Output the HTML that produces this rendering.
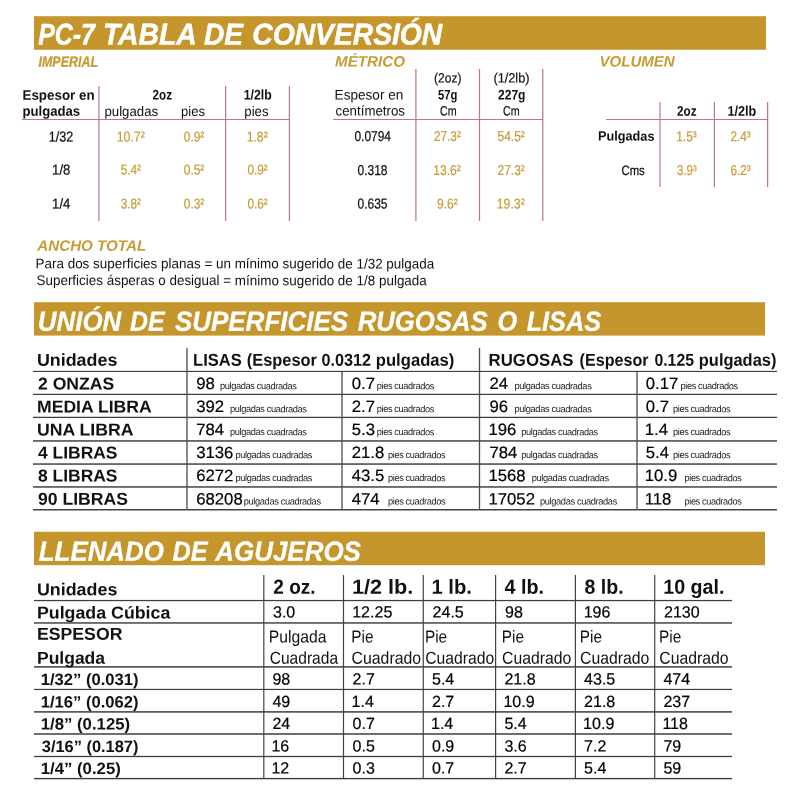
<!DOCTYPE html>
<html lang="es"><head><meta charset="utf-8"><title>PC-7 Tabla de Conversión</title>
<style>
html,body{margin:0;padding:0;background:#fff;}
body{width:800px;height:800px;position:relative;overflow:hidden;font-family:"Liberation Sans",sans-serif;}
#w{position:absolute;left:0;top:0;width:800px;height:800px;will-change:transform;}
.t{position:absolute;white-space:nowrap;line-height:1;margin:0;padding:0;transform-origin:0 0;}
.r{position:absolute;}
.b{font-weight:bold;}.i{font-style:italic;}
</style></head><body><div id="w">
<div class="r" style="left:34px;top:17px;width:732px;height:32px;background:#C4962C"></div>
<div class="r" style="left:34px;top:16px;width:732px;height:1px;background:#C4962C;opacity:0.80"></div>
<div class="r" style="left:34px;top:49px;width:732px;height:1px;background:#C4962C;opacity:0.75"></div>
<div class="r" style="left:34px;top:303px;width:731px;height:32px;background:#C4962C"></div>
<div class="r" style="left:34px;top:302px;width:731px;height:1px;background:#C4962C;opacity:0.80"></div>
<div class="r" style="left:34px;top:335px;width:731px;height:1px;background:#C4962C;opacity:0.60"></div>
<div class="r" style="left:34px;top:532px;width:731px;height:33px;background:#C4962C"></div>
<div class="r" style="left:34px;top:531px;width:731px;height:1px;background:#C4962C;opacity:0.25"></div>
<div class="r" style="left:34px;top:565px;width:731px;height:1px;background:#C4962C;opacity:0.20"></div>
<div class="r" style="left:98px;top:86px;width:1px;height:135px;background:#B87884;opacity:0.70"></div>
<div class="r" style="left:99px;top:86px;width:1px;height:135px;background:#B87884;opacity:0.50"></div>
<div class="r" style="left:225px;top:86px;width:1px;height:135px;background:#B87884;opacity:0.95"></div>
<div class="r" style="left:226px;top:86px;width:1px;height:135px;background:#B87884;opacity:0.25"></div>
<div class="r" style="left:288px;top:86px;width:1px;height:135px;background:#B87884;opacity:0.20"></div>
<div class="r" style="left:289px;top:86px;width:1px;height:135px;background:#B87884"></div>
<div class="r" style="left:22px;top:119px;width:268px;height:1px;background:#B87884"></div>
<div class="r" style="left:415px;top:69px;width:1px;height:152px;background:#B87884;opacity:0.70"></div>
<div class="r" style="left:416px;top:69px;width:1px;height:152px;background:#B87884;opacity:0.50"></div>
<div class="r" style="left:478px;top:69px;width:1px;height:152px;background:#B87884;opacity:0.10"></div>
<div class="r" style="left:479px;top:69px;width:1px;height:152px;background:#B87884"></div>
<div class="r" style="left:480px;top:69px;width:1px;height:152px;background:#B87884;opacity:0.10"></div>
<div class="r" style="left:542px;top:69px;width:1px;height:152px;background:#B87884;opacity:0.80"></div>
<div class="r" style="left:543px;top:69px;width:1px;height:152px;background:#B87884;opacity:0.40"></div>
<div class="r" style="left:333px;top:119px;width:210px;height:1px;background:#B87884"></div>
<div class="r" style="left:659px;top:102px;width:1px;height:85px;background:#B87884;opacity:0.60"></div>
<div class="r" style="left:660px;top:102px;width:1px;height:85px;background:#B87884;opacity:0.60"></div>
<div class="r" style="left:713px;top:102px;width:1px;height:85px;background:#B87884;opacity:0.20"></div>
<div class="r" style="left:714px;top:102px;width:1px;height:85px;background:#B87884"></div>
<div class="r" style="left:767px;top:102px;width:1px;height:85px;background:#B87884"></div>
<div class="r" style="left:768px;top:102px;width:1px;height:85px;background:#B87884;opacity:0.20"></div>
<div class="r" style="left:606px;top:119px;width:162px;height:1px;background:#B87884"></div>
<div class="r" style="left:33px;top:370px;width:744px;height:1px;background:#3e3e3e;opacity:0.12"></div>
<div class="r" style="left:33px;top:371px;width:744px;height:1px;background:#3e3e3e"></div>
<div class="r" style="left:33px;top:393px;width:744px;height:1px;background:#3e3e3e;opacity:0.23"></div>
<div class="r" style="left:33px;top:394px;width:744px;height:1px;background:#3e3e3e"></div>
<div class="r" style="left:33px;top:416px;width:744px;height:1px;background:#3e3e3e;opacity:0.25"></div>
<div class="r" style="left:33px;top:417px;width:744px;height:1px;background:#3e3e3e"></div>
<div class="r" style="left:33px;top:418px;width:744px;height:1px;background:#3e3e3e;opacity:0.05"></div>
<div class="r" style="left:33px;top:440px;width:744px;height:1px;background:#3e3e3e;opacity:0.78"></div>
<div class="r" style="left:33px;top:441px;width:744px;height:1px;background:#3e3e3e;opacity:0.68"></div>
<div class="r" style="left:33px;top:463px;width:744px;height:1px;background:#3e3e3e;opacity:0.68"></div>
<div class="r" style="left:33px;top:464px;width:744px;height:1px;background:#3e3e3e;opacity:0.78"></div>
<div class="r" style="left:33px;top:486px;width:744px;height:1px;background:#3e3e3e;opacity:0.78"></div>
<div class="r" style="left:33px;top:487px;width:744px;height:1px;background:#3e3e3e;opacity:0.68"></div>
<div class="r" style="left:33px;top:509px;width:744px;height:1px;background:#3e3e3e;opacity:0.98"></div>
<div class="r" style="left:33px;top:510px;width:744px;height:1px;background:#3e3e3e;opacity:0.48"></div>
<div class="r" style="left:186px;top:348px;width:1px;height:162px;background:#4c4c4c;opacity:0.65"></div>
<div class="r" style="left:187px;top:348px;width:1px;height:162px;background:#4c4c4c;opacity:0.65"></div>
<div class="r" style="left:341px;top:372px;width:1px;height:138px;background:#4c4c4c;opacity:0.65"></div>
<div class="r" style="left:342px;top:372px;width:1px;height:138px;background:#4c4c4c;opacity:0.65"></div>
<div class="r" style="left:478px;top:348px;width:1px;height:162px;background:#4c4c4c;opacity:0.15"></div>
<div class="r" style="left:479px;top:348px;width:1px;height:162px;background:#4c4c4c"></div>
<div class="r" style="left:480px;top:348px;width:1px;height:162px;background:#4c4c4c;opacity:0.15"></div>
<div class="r" style="left:636px;top:372px;width:1px;height:138px;background:#4c4c4c;opacity:0.65"></div>
<div class="r" style="left:637px;top:372px;width:1px;height:138px;background:#4c4c4c;opacity:0.65"></div>
<div class="r" style="left:34px;top:599px;width:698px;height:1px;background:#3e3e3e;opacity:0.08"></div>
<div class="r" style="left:34px;top:600px;width:698px;height:1px;background:#3e3e3e"></div>
<div class="r" style="left:34px;top:601px;width:698px;height:1px;background:#3e3e3e;opacity:0.17"></div>
<div class="r" style="left:34px;top:622px;width:698px;height:1px;background:#3e3e3e;opacity:0.77"></div>
<div class="r" style="left:34px;top:623px;width:698px;height:1px;background:#3e3e3e;opacity:0.68"></div>
<div class="r" style="left:34px;top:666px;width:698px;height:1px;background:#3e3e3e;opacity:0.85"></div>
<div class="r" style="left:34px;top:667px;width:698px;height:1px;background:#3e3e3e;opacity:0.65"></div>
<div class="r" style="left:34px;top:688px;width:698px;height:1px;background:#3e3e3e;opacity:0.15"></div>
<div class="r" style="left:34px;top:689px;width:698px;height:1px;background:#3e3e3e"></div>
<div class="r" style="left:34px;top:690px;width:698px;height:1px;background:#3e3e3e;opacity:0.05"></div>
<div class="r" style="left:34px;top:711px;width:698px;height:1px;background:#3e3e3e;opacity:0.85"></div>
<div class="r" style="left:34px;top:712px;width:698px;height:1px;background:#3e3e3e;opacity:0.65"></div>
<div class="r" style="left:34px;top:733px;width:698px;height:1px;background:#3e3e3e;opacity:0.75"></div>
<div class="r" style="left:34px;top:734px;width:698px;height:1px;background:#3e3e3e;opacity:0.75"></div>
<div class="r" style="left:34px;top:755px;width:698px;height:1px;background:#3e3e3e;opacity:0.15"></div>
<div class="r" style="left:34px;top:756px;width:698px;height:1px;background:#3e3e3e"></div>
<div class="r" style="left:34px;top:757px;width:698px;height:1px;background:#3e3e3e;opacity:0.15"></div>
<div class="r" style="left:34px;top:777px;width:698px;height:1px;background:#3e3e3e;opacity:0.10"></div>
<div class="r" style="left:34px;top:778px;width:698px;height:1px;background:#3e3e3e"></div>
<div class="r" style="left:34px;top:779px;width:698px;height:1px;background:#3e3e3e;opacity:0.30"></div>
<div class="r" style="left:263px;top:575px;width:1px;height:204px;background:#424242;opacity:0.80"></div>
<div class="r" style="left:264px;top:575px;width:1px;height:204px;background:#424242;opacity:0.40"></div>
<div class="r" style="left:342px;top:575px;width:1px;height:204px;background:#424242;opacity:0.10"></div>
<div class="r" style="left:343px;top:575px;width:1px;height:204px;background:#424242"></div>
<div class="r" style="left:344px;top:575px;width:1px;height:204px;background:#424242;opacity:0.10"></div>
<div class="r" style="left:422px;top:575px;width:1px;height:204px;background:#424242;opacity:0.35"></div>
<div class="r" style="left:423px;top:575px;width:1px;height:204px;background:#424242;opacity:0.85"></div>
<div class="r" style="left:495px;top:575px;width:1px;height:204px;background:#424242"></div>
<div class="r" style="left:496px;top:575px;width:1px;height:204px;background:#424242;opacity:0.20"></div>
<div class="r" style="left:574px;top:575px;width:1px;height:204px;background:#424242;opacity:0.20"></div>
<div class="r" style="left:575px;top:575px;width:1px;height:204px;background:#424242"></div>
<div class="r" style="left:654px;top:575px;width:1px;height:204px;background:#424242;opacity:0.90"></div>
<div class="r" style="left:655px;top:575px;width:1px;height:204px;background:#424242;opacity:0.30"></div>
<div class="t b i" style="left:38px;top:19px;font-size:30px;color:#fff;-webkit-text-stroke:0.5px #fff;transform:translate(0.25px,0.41px) scale(0.8290,1.0000) rotate(0.032deg);">PC-7</div>
<div class="t b i" style="left:102px;top:19px;font-size:30px;color:#fff;-webkit-text-stroke:0.5px #fff;transform:translate(0.92px,0.41px) scale(0.9420,1.0000) rotate(0.032deg);">TABLA</div>
<div class="t b i" style="left:204px;top:19px;font-size:30px;color:#fff;-webkit-text-stroke:0.5px #fff;transform:translate(0.00px,0.41px) scale(0.9375,1.0000) rotate(0.032deg);">DE</div>
<div class="t b i" style="left:252px;top:19px;font-size:30px;color:#fff;-webkit-text-stroke:0.5px #fff;transform:translate(0.26px,0.41px) scale(0.9419,1.0000) rotate(0.032deg);">CONVERSIÓN</div>
<div class="t b i" style="left:37px;top:307px;font-size:27.7px;color:#fff;-webkit-text-stroke:0.3px #fff;transform:translate(0.87px,0.71px) scale(0.9337,1.0000) rotate(0.032deg);">UNIÓN</div>
<div class="t b i" style="left:130px;top:307px;font-size:27.7px;color:#fff;-webkit-text-stroke:0.3px #fff;transform:translate(0.00px,0.71px) scale(0.9001,1.0000) rotate(0.032deg);">DE</div>
<div class="t b i" style="left:174px;top:307px;font-size:27.7px;color:#fff;-webkit-text-stroke:0.3px #fff;transform:translate(0.90px,0.71px) scale(0.9381,1.0000) rotate(0.032deg);">SUPERFICIES</div>
<div class="t b i" style="left:357px;top:307px;font-size:27.7px;color:#fff;-webkit-text-stroke:0.3px #fff;transform:translate(0.70px,0.71px) scale(0.9287,1.0000) rotate(0.032deg);">RUGOSAS</div>
<div class="t b i" style="left:497px;top:307px;font-size:27.7px;color:#fff;-webkit-text-stroke:0.3px #fff;transform:translate(0.49px,0.71px) scale(0.9143,1.0000) rotate(0.032deg);">O</div>
<div class="t b i" style="left:526px;top:307px;font-size:27.7px;color:#fff;-webkit-text-stroke:0.3px #fff;transform:translate(0.70px,0.71px) scale(0.9114,1.0000) rotate(0.032deg);">LISAS</div>
<div class="t b i" style="left:38px;top:537px;font-size:27.6px;color:#fff;-webkit-text-stroke:0.3px #fff;transform:translate(0.80px,0.71px) scale(0.9376,1.0000) rotate(0.032deg);">LLENADO</div>
<div class="t b i" style="left:172px;top:537px;font-size:27.6px;color:#fff;-webkit-text-stroke:0.3px #fff;transform:translate(0.50px,0.71px) scale(0.9142,1.0000) rotate(0.032deg);">DE</div>
<div class="t b i" style="left:215px;top:537px;font-size:27.6px;color:#fff;-webkit-text-stroke:0.3px #fff;transform:translate(0.24px,0.71px) scale(0.9408,1.0000) rotate(0.032deg);">AGUJEROS</div>
<div class="t b i" style="left:38px;top:53px;font-size:15px;color:#C79A34;-webkit-text-stroke:0.3px #C79A34;transform:translate(0.50px,0.80px) scale(0.8307,1.0000) rotate(0.032deg);">IMPERIAL</div>
<div class="t b i" style="left:335px;top:53px;font-size:15px;color:#C79A34;transform:translate(0.00px,0.40px) scale(1.0116,1.0000) rotate(0.032deg);">MÉTRICO</div>
<div class="t b i" style="left:599px;top:53px;font-size:15px;color:#C79A34;transform:translate(0.50px,0.40px) scale(1.0018,1.0000) rotate(0.032deg);">VOLUMEN</div>
<div class="t b" style="left:22px;top:88px;font-size:13.8px;color:#111111;transform:translate(0.50px,0.80px) scale(0.9702,1.0000) rotate(0.032deg);">Espesor en</div>
<div class="t b" style="left:22px;top:104px;font-size:13.8px;color:#111111;transform:translate(0.50px,0.80px) scale(0.9525,1.0000) rotate(0.032deg);">pulgadas</div>
<div class="t b" style="left:152px;top:87px;font-size:14px;color:#111111;transform:translate(0.50px,0.50px) scale(0.8356,1.0000) rotate(0.032deg);">2oz</div>
<div class="t" style="left:104px;top:104px;font-size:13.8px;color:#111111;transform:translate(0.50px,0.91px) scale(0.9571,1.0000) rotate(0.032deg);">pulgadas</div>
<div class="t" style="left:181px;top:104px;font-size:13.8px;color:#111111;transform:translate(0.00px,0.91px) scale(0.9445,1.0000) rotate(0.032deg);">pies</div>
<div class="t b" style="left:243px;top:87px;font-size:14px;color:#111111;transform:translate(0.75px,0.50px) scale(0.8771,1.0000) rotate(0.032deg);">1/2lb</div>
<div class="t" style="left:244px;top:104px;font-size:13.8px;color:#111111;transform:translate(0.30px,0.91px) scale(0.9602,1.0000) rotate(0.032deg);">pies</div>
<div class="t" style="left:48px;top:129px;font-size:14.3px;color:#111111;-webkit-text-stroke:0.25px #111111;transform:translate(0.72px,0.40px) scale(0.8782,1.0000) rotate(0.032deg);">1/32</div>
<div class="t" style="left:116px;top:129px;font-size:14.3px;color:#C79A34;-webkit-text-stroke:0.2px #C79A34;transform:translate(0.64px,0.40px) scale(0.8641,1.0000) rotate(0.032deg);">10.7²</div>
<div class="t" style="left:183px;top:129px;font-size:14.3px;color:#C79A34;-webkit-text-stroke:0.2px #C79A34;transform:translate(0.80px,0.40px) scale(0.8322,1.0000) rotate(0.032deg);">0.9²</div>
<div class="t" style="left:246px;top:129px;font-size:14.3px;color:#C79A34;-webkit-text-stroke:0.2px #C79A34;transform:translate(0.64px,0.40px) scale(0.8587,1.0000) rotate(0.032deg);">1.8²</div>
<div class="t" style="left:52px;top:162px;font-size:14.3px;color:#111111;-webkit-text-stroke:0.25px #111111;transform:translate(0.08px,0.60px) scale(0.9195,1.0000) rotate(0.032deg);">1/8</div>
<div class="t" style="left:120px;top:162px;font-size:14.3px;color:#C79A34;-webkit-text-stroke:0.2px #C79A34;transform:translate(0.75px,0.60px) scale(0.8241,1.0000) rotate(0.032deg);">5.4²</div>
<div class="t" style="left:183px;top:162px;font-size:14.3px;color:#C79A34;-webkit-text-stroke:0.2px #C79A34;transform:translate(0.80px,0.60px) scale(0.8322,1.0000) rotate(0.032deg);">0.5²</div>
<div class="t" style="left:247px;top:162px;font-size:14.3px;color:#C79A34;-webkit-text-stroke:0.2px #C79A34;transform:translate(0.50px,0.60px) scale(0.8241,1.0000) rotate(0.032deg);">0.9²</div>
<div class="t" style="left:52px;top:196px;font-size:14.3px;color:#111111;-webkit-text-stroke:0.25px #111111;transform:translate(0.08px,0.40px) scale(0.9195,1.0000) rotate(0.032deg);">1/4</div>
<div class="t" style="left:120px;top:196px;font-size:14.3px;color:#C79A34;-webkit-text-stroke:0.2px #C79A34;transform:translate(0.75px,0.40px) scale(0.8241,1.0000) rotate(0.032deg);">3.8²</div>
<div class="t" style="left:183px;top:196px;font-size:14.3px;color:#C79A34;-webkit-text-stroke:0.2px #C79A34;transform:translate(0.80px,0.40px) scale(0.8322,1.0000) rotate(0.032deg);">0.3²</div>
<div class="t" style="left:247px;top:196px;font-size:14.3px;color:#C79A34;-webkit-text-stroke:0.2px #C79A34;transform:translate(0.50px,0.40px) scale(0.8241,1.0000) rotate(0.032deg);">0.6²</div>
<div class="t" style="left:334px;top:87px;font-size:14px;color:#111111;transform:translate(0.63px,0.51px) scale(0.9691,1.0000) rotate(0.032deg);">Espesor en</div>
<div class="t" style="left:335px;top:103px;font-size:14px;color:#111111;transform:translate(0.60px,0.51px) scale(0.9489,1.0000) rotate(0.032deg);">centímetros</div>
<div class="t" style="left:434px;top:71px;font-size:13.5px;color:#111111;-webkit-text-stroke:0.2px #111111;transform:translate(0.00px,0.40px) scale(0.8922,1.0000) rotate(0.032deg);">(2oz)</div>
<div class="t b" style="left:438px;top:87px;font-size:14px;color:#111111;transform:translate(0.00px,0.50px) scale(0.8060,1.0000) rotate(0.032deg);">57g</div>
<div class="t" style="left:440px;top:104px;font-size:13.5px;color:#111111;-webkit-text-stroke:0.2px #111111;transform:translate(0.00px,0.40px) scale(0.7952,1.0000) rotate(0.032deg);">Cm</div>
<div class="t" style="left:493px;top:71px;font-size:13.5px;color:#111111;-webkit-text-stroke:0.2px #111111;transform:translate(0.40px,0.40px) scale(0.9426,1.0000) rotate(0.032deg);">(1/2lb)</div>
<div class="t b" style="left:498px;top:87px;font-size:14px;color:#111111;transform:translate(0.00px,0.50px) scale(0.8610,1.0000) rotate(0.032deg);">227g</div>
<div class="t" style="left:503px;top:104px;font-size:13.5px;color:#111111;-webkit-text-stroke:0.2px #111111;transform:translate(0.00px,0.40px) scale(0.7952,1.0000) rotate(0.032deg);">Cm</div>
<div class="t" style="left:354px;top:129px;font-size:14.3px;color:#111111;-webkit-text-stroke:0.25px #111111;transform:translate(0.50px,0.00px) scale(0.8338,1.0000) rotate(0.032deg);">0.0794</div>
<div class="t" style="left:434px;top:129px;font-size:14.3px;color:#C79A34;-webkit-text-stroke:0.2px #C79A34;transform:translate(0.00px,0.00px) scale(0.8225,1.0000) rotate(0.032deg);">27.3²</div>
<div class="t" style="left:497px;top:129px;font-size:14.3px;color:#C79A34;-webkit-text-stroke:0.2px #C79A34;transform:translate(0.60px,0.00px) scale(0.8347,1.0000) rotate(0.032deg);">54.5²</div>
<div class="t" style="left:357px;top:162px;font-size:14.3px;color:#111111;-webkit-text-stroke:0.25px #111111;transform:translate(0.50px,0.90px) scale(0.8374,1.0000) rotate(0.032deg);">0.318</div>
<div class="t" style="left:433px;top:162px;font-size:14.3px;color:#C79A34;-webkit-text-stroke:0.2px #C79A34;transform:translate(0.15px,0.90px) scale(0.8484,1.0000) rotate(0.032deg);">13.6²</div>
<div class="t" style="left:497px;top:162px;font-size:14.3px;color:#C79A34;-webkit-text-stroke:0.2px #C79A34;transform:translate(0.60px,0.90px) scale(0.8347,1.0000) rotate(0.032deg);">27.3²</div>
<div class="t" style="left:357px;top:196px;font-size:14.3px;color:#111111;-webkit-text-stroke:0.25px #111111;transform:translate(0.50px,0.50px) scale(0.8374,1.0000) rotate(0.032deg);">0.635</div>
<div class="t" style="left:437px;top:196px;font-size:14.3px;color:#C79A34;-webkit-text-stroke:0.2px #C79A34;transform:translate(0.00px,0.50px) scale(0.8442,1.0000) rotate(0.032deg);">9.6²</div>
<div class="t" style="left:496px;top:196px;font-size:14.3px;color:#C79A34;-webkit-text-stroke:0.2px #C79A34;transform:translate(0.74px,0.50px) scale(0.8609,1.0000) rotate(0.032deg);">19.3²</div>
<div class="t b" style="left:677px;top:103px;font-size:14px;color:#111111;transform:translate(0.00px,0.80px) scale(0.8356,1.0000) rotate(0.032deg);">2oz</div>
<div class="t b" style="left:727px;top:103px;font-size:14px;color:#111111;transform:translate(0.40px,0.80px) scale(0.8995,1.0000) rotate(0.032deg);">1/2lb</div>
<div class="t b" style="left:598px;top:129px;font-size:13.5px;color:#111111;transform:translate(0.00px,0.60px) scale(0.9410,1.0000) rotate(0.032deg);">Pulgadas</div>
<div class="t" style="left:621px;top:164px;font-size:13.5px;color:#111111;-webkit-text-stroke:0.25px #111111;transform:translate(0.50px,0.10px) scale(0.8394,1.0000) rotate(0.032deg);">Cms</div>
<div class="t" style="left:676px;top:129px;font-size:14.3px;color:#C79A34;-webkit-text-stroke:0.2px #C79A34;transform:translate(0.16px,0.20px) scale(0.8377,1.0000) rotate(0.032deg);">1.5³</div>
<div class="t" style="left:730px;top:129px;font-size:14.3px;color:#C79A34;-webkit-text-stroke:0.2px #C79A34;transform:translate(0.40px,0.20px) scale(0.8282,1.0000) rotate(0.032deg);">2.4³</div>
<div class="t" style="left:677px;top:162px;font-size:14.3px;color:#C79A34;-webkit-text-stroke:0.2px #C79A34;transform:translate(0.00px,0.90px) scale(0.8040,1.0000) rotate(0.032deg);">3.9³</div>
<div class="t" style="left:730px;top:162px;font-size:14.3px;color:#C79A34;-webkit-text-stroke:0.2px #C79A34;transform:translate(0.40px,0.90px) scale(0.8282,1.0000) rotate(0.032deg);">6.2³</div>
<div class="t b i" style="left:37px;top:237px;font-size:15px;color:#C79A34;transform:translate(0.31px,0.80px) scale(1.0101,1.0000) rotate(0.032deg);">ANCHO TOTAL</div>
<div class="t" style="left:35px;top:256px;font-size:14px;color:#111111;transform:translate(0.54px,0.21px) scale(0.9601,1.0000) rotate(0.032deg);">Para dos superficies planas = un mínimo sugerido de 1/32 pulgada</div>
<div class="t" style="left:36px;top:273px;font-size:14px;color:#111111;transform:translate(0.50px,0.01px) scale(0.9598,1.0000) rotate(0.032deg);">Superficies ásperas o desigual = mínimo sugerido de 1/8 pulgada</div>
<div class="t b" style="left:36px;top:351px;font-size:17.2px;color:#111111;transform:translate(0.96px,0.70px) scale(1.0389,1.0000) rotate(0.032deg);">Unidades</div>
<div class="t b" style="left:193px;top:351px;font-size:17.2px;color:#111111;transform:translate(0.04px,0.70px) scale(0.9624,1.0000) rotate(0.032deg);">LISAS</div>
<div class="t b" style="left:246px;top:351px;font-size:17.2px;color:#111111;transform:translate(0.80px,0.70px) scale(0.9545,1.0000) rotate(0.032deg);">(Espesor</div>
<div class="t b" style="left:321px;top:351px;font-size:17.2px;color:#111111;transform:translate(0.60px,0.70px) scale(0.9421,1.0000) rotate(0.032deg);">0.0312</div>
<div class="t b" style="left:375px;top:351px;font-size:17.2px;color:#111111;transform:translate(0.83px,0.70px) scale(0.9667,1.0000) rotate(0.032deg);">pulgadas)</div>
<div class="t b" style="left:488px;top:351px;font-size:17.2px;color:#111111;transform:translate(0.62px,0.70px) scale(0.9761,1.0000) rotate(0.032deg);">RUGOSAS</div>
<div class="t b" style="left:579px;top:351px;font-size:17.2px;color:#111111;transform:translate(0.60px,0.70px) scale(0.9369,1.0000) rotate(0.032deg);">(Espesor</div>
<div class="t b" style="left:654px;top:351px;font-size:17.2px;color:#111111;transform:translate(0.40px,0.70px) scale(0.9206,1.0000) rotate(0.032deg);">0.125</div>
<div class="t b" style="left:698px;top:351px;font-size:17.2px;color:#111111;transform:translate(0.84px,0.70px) scale(0.9554,1.0000) rotate(0.032deg);">pulgadas)</div>
<div class="t b" style="left:38px;top:375px;font-size:17.2px;color:#111111;transform:translate(0.00px,0.40px) scale(1.0233,1.0000) rotate(0.032deg);">2 ONZAS</div>
<div class="t" style="left:196px;top:375px;font-size:16.4px;color:#000;-webkit-text-stroke:0.2px #000;transform:translate(0.20px,0.11px) scale(1.0200,1.0000) rotate(0.032deg);">98</div>
<div class="t" style="left:220px;top:381px;font-size:9.6px;color:#222;letter-spacing:-0.4px;transform:translate(0.00px,0.10px) scale(0.9648,1.0000) rotate(0.032deg);">pulgadas cuadradas</div>
<div class="t" style="left:351px;top:375px;font-size:16.4px;color:#000;-webkit-text-stroke:0.2px #000;transform:translate(0.75px,0.11px) scale(1.0200,1.0000) rotate(0.032deg);">0.7</div>
<div class="t" style="left:376px;top:381px;font-size:9.6px;color:#222;letter-spacing:-0.4px;transform:translate(0.75px,0.10px) scale(0.9614,1.0000) rotate(0.032deg);">pies cuadrados</div>
<div class="t" style="left:489px;top:375px;font-size:16.4px;color:#000;-webkit-text-stroke:0.2px #000;transform:translate(0.50px,0.11px) scale(1.0200,1.0000) rotate(0.032deg);">24</div>
<div class="t" style="left:514px;top:381px;font-size:9.6px;color:#222;letter-spacing:-0.4px;transform:translate(0.50px,0.10px) scale(0.9710,1.0000) rotate(0.032deg);">pulgadas cuadradas</div>
<div class="t" style="left:645px;top:375px;font-size:16.4px;color:#000;-webkit-text-stroke:0.2px #000;transform:translate(0.75px,0.11px) scale(1.0200,1.0000) rotate(0.032deg);">0.17</div>
<div class="t" style="left:680px;top:381px;font-size:9.6px;color:#222;letter-spacing:-0.4px;transform:translate(0.50px,0.10px) scale(0.9614,1.0000) rotate(0.032deg);">pies cuadrados</div>
<div class="t b" style="left:36px;top:398px;font-size:17.2px;color:#111111;transform:translate(0.98px,0.40px) scale(1.0247,1.0000) rotate(0.032deg);">MEDIA LIBRA</div>
<div class="t" style="left:196px;top:398px;font-size:16.4px;color:#000;-webkit-text-stroke:0.2px #000;transform:translate(0.20px,0.11px) scale(1.0200,1.0000) rotate(0.032deg);">392</div>
<div class="t" style="left:230px;top:404px;font-size:9.6px;color:#222;letter-spacing:-0.4px;transform:translate(0.00px,0.10px) scale(0.9648,1.0000) rotate(0.032deg);">pulgadas cuadradas</div>
<div class="t" style="left:351px;top:398px;font-size:16.4px;color:#000;-webkit-text-stroke:0.2px #000;transform:translate(0.75px,0.11px) scale(1.0200,1.0000) rotate(0.032deg);">2.7</div>
<div class="t" style="left:376px;top:404px;font-size:9.6px;color:#222;letter-spacing:-0.4px;transform:translate(0.75px,0.10px) scale(0.9614,1.0000) rotate(0.032deg);">pies cuadrados</div>
<div class="t" style="left:489px;top:398px;font-size:16.4px;color:#000;-webkit-text-stroke:0.2px #000;transform:translate(0.50px,0.11px) scale(1.0200,1.0000) rotate(0.032deg);">96</div>
<div class="t" style="left:514px;top:404px;font-size:9.6px;color:#222;letter-spacing:-0.4px;transform:translate(0.50px,0.10px) scale(0.9710,1.0000) rotate(0.032deg);">pulgadas cuadradas</div>
<div class="t" style="left:645px;top:398px;font-size:16.4px;color:#000;-webkit-text-stroke:0.2px #000;transform:translate(0.75px,0.11px) scale(1.0200,1.0000) rotate(0.032deg);">0.7</div>
<div class="t" style="left:673px;top:404px;font-size:9.6px;color:#222;letter-spacing:-0.4px;transform:translate(0.00px,0.10px) scale(0.9614,1.0000) rotate(0.032deg);">pies cuadrados</div>
<div class="t b" style="left:36px;top:421px;font-size:17.2px;color:#111111;transform:translate(0.97px,0.40px) scale(1.0283,1.0000) rotate(0.032deg);">UNA LIBRA</div>
<div class="t" style="left:196px;top:421px;font-size:16.4px;color:#000;-webkit-text-stroke:0.2px #000;transform:translate(0.20px,0.11px) scale(1.0200,1.0000) rotate(0.032deg);">784</div>
<div class="t" style="left:230px;top:427px;font-size:9.6px;color:#222;letter-spacing:-0.4px;transform:translate(0.00px,0.10px) scale(0.9648,1.0000) rotate(0.032deg);">pulgadas cuadradas</div>
<div class="t" style="left:351px;top:421px;font-size:16.4px;color:#000;-webkit-text-stroke:0.2px #000;transform:translate(0.75px,0.11px) scale(1.0200,1.0000) rotate(0.032deg);">5.3</div>
<div class="t" style="left:376px;top:427px;font-size:9.6px;color:#222;letter-spacing:-0.4px;transform:translate(0.75px,0.10px) scale(0.9614,1.0000) rotate(0.032deg);">pies cuadrados</div>
<div class="t" style="left:488px;top:421px;font-size:16.4px;color:#000;-webkit-text-stroke:0.2px #000;transform:translate(0.48px,0.11px) scale(1.0200,1.0000) rotate(0.032deg);">196</div>
<div class="t" style="left:521px;top:427px;font-size:9.6px;color:#222;letter-spacing:-0.4px;transform:translate(0.25px,0.10px) scale(0.9648,1.0000) rotate(0.032deg);">pulgadas cuadradas</div>
<div class="t" style="left:644px;top:421px;font-size:16.4px;color:#000;-webkit-text-stroke:0.2px #000;transform:translate(0.73px,0.11px) scale(1.0200,1.0000) rotate(0.032deg);">1.4</div>
<div class="t" style="left:673px;top:427px;font-size:9.6px;color:#222;letter-spacing:-0.4px;transform:translate(0.00px,0.10px) scale(0.9614,1.0000) rotate(0.032deg);">pies cuadrados</div>
<div class="t b" style="left:38px;top:444px;font-size:17.2px;color:#111111;transform:translate(0.00px,0.40px) scale(1.0148,1.0000) rotate(0.032deg);">4 LIBRAS</div>
<div class="t" style="left:196px;top:444px;font-size:16.4px;color:#000;-webkit-text-stroke:0.2px #000;transform:translate(0.20px,0.11px) scale(1.0200,1.0000) rotate(0.032deg);">3136</div>
<div class="t" style="left:235px;top:450px;font-size:9.6px;color:#222;letter-spacing:-0.4px;transform:translate(0.50px,0.10px) scale(0.9648,1.0000) rotate(0.032deg);">pulgadas cuadradas</div>
<div class="t" style="left:351px;top:444px;font-size:16.4px;color:#000;-webkit-text-stroke:0.2px #000;transform:translate(0.75px,0.11px) scale(1.0200,1.0000) rotate(0.032deg);">21.8</div>
<div class="t" style="left:388px;top:450px;font-size:9.6px;color:#222;letter-spacing:-0.4px;transform:translate(0.00px,0.10px) scale(0.9614,1.0000) rotate(0.032deg);">pies cuadrados</div>
<div class="t" style="left:489px;top:444px;font-size:16.4px;color:#000;-webkit-text-stroke:0.2px #000;transform:translate(0.50px,0.11px) scale(1.0200,1.0000) rotate(0.032deg);">784</div>
<div class="t" style="left:521px;top:450px;font-size:9.6px;color:#222;letter-spacing:-0.4px;transform:translate(0.25px,0.10px) scale(0.9648,1.0000) rotate(0.032deg);">pulgadas cuadradas</div>
<div class="t" style="left:645px;top:444px;font-size:16.4px;color:#000;-webkit-text-stroke:0.2px #000;transform:translate(0.75px,0.11px) scale(1.0200,1.0000) rotate(0.032deg);">5.4</div>
<div class="t" style="left:673px;top:450px;font-size:9.6px;color:#222;letter-spacing:-0.4px;transform:translate(0.00px,0.10px) scale(0.9614,1.0000) rotate(0.032deg);">pies cuadrados</div>
<div class="t b" style="left:38px;top:467px;font-size:17.2px;color:#111111;transform:translate(0.00px,0.40px) scale(1.0148,1.0000) rotate(0.032deg);">8 LIBRAS</div>
<div class="t" style="left:196px;top:467px;font-size:16.4px;color:#000;-webkit-text-stroke:0.2px #000;transform:translate(0.20px,0.11px) scale(1.0200,1.0000) rotate(0.032deg);">6272</div>
<div class="t" style="left:235px;top:473px;font-size:9.6px;color:#222;letter-spacing:-0.4px;transform:translate(0.50px,0.10px) scale(0.9648,1.0000) rotate(0.032deg);">pulgadas cuadradas</div>
<div class="t" style="left:351px;top:467px;font-size:16.4px;color:#000;-webkit-text-stroke:0.2px #000;transform:translate(0.75px,0.11px) scale(1.0200,1.0000) rotate(0.032deg);">43.5</div>
<div class="t" style="left:388px;top:473px;font-size:9.6px;color:#222;letter-spacing:-0.4px;transform:translate(0.00px,0.10px) scale(0.9614,1.0000) rotate(0.032deg);">pies cuadrados</div>
<div class="t" style="left:488px;top:467px;font-size:16.4px;color:#000;-webkit-text-stroke:0.2px #000;transform:translate(0.48px,0.11px) scale(1.0200,1.0000) rotate(0.032deg);">1568</div>
<div class="t" style="left:531px;top:473px;font-size:9.6px;color:#222;letter-spacing:-0.4px;transform:translate(0.75px,0.10px) scale(0.9710,1.0000) rotate(0.032deg);">pulgadas cuadradas</div>
<div class="t" style="left:644px;top:467px;font-size:16.4px;color:#000;-webkit-text-stroke:0.2px #000;transform:translate(0.73px,0.11px) scale(1.0200,1.0000) rotate(0.032deg);">10.9</div>
<div class="t" style="left:684px;top:473px;font-size:9.6px;color:#222;letter-spacing:-0.4px;transform:translate(0.50px,0.10px) scale(0.9572,1.0000) rotate(0.032deg);">pies cuadrados</div>
<div class="t b" style="left:38px;top:490px;font-size:17.2px;color:#111111;transform:translate(0.00px,0.70px) scale(1.0240,1.0000) rotate(0.032deg);">90 LIBRAS</div>
<div class="t" style="left:196px;top:490px;font-size:16.4px;color:#000;-webkit-text-stroke:0.2px #000;transform:translate(0.20px,0.41px) scale(1.0200,1.0000) rotate(0.032deg);">68208</div>
<div class="t" style="left:243px;top:496px;font-size:9.6px;color:#222;letter-spacing:-0.4px;transform:translate(0.75px,0.40px) scale(0.9710,1.0000) rotate(0.032deg);">pulgadas cuadradas</div>
<div class="t" style="left:351px;top:490px;font-size:16.4px;color:#000;-webkit-text-stroke:0.2px #000;transform:translate(0.75px,0.41px) scale(1.0200,1.0000) rotate(0.032deg);">474</div>
<div class="t" style="left:388px;top:496px;font-size:9.6px;color:#222;letter-spacing:-0.4px;transform:translate(0.00px,0.40px) scale(0.9614,1.0000) rotate(0.032deg);">pies cuadrados</div>
<div class="t" style="left:488px;top:490px;font-size:16.4px;color:#000;-webkit-text-stroke:0.2px #000;transform:translate(0.48px,0.41px) scale(1.0200,1.0000) rotate(0.032deg);">17052</div>
<div class="t" style="left:540px;top:496px;font-size:9.6px;color:#222;letter-spacing:-0.4px;transform:translate(0.00px,0.40px) scale(0.9710,1.0000) rotate(0.032deg);">pulgadas cuadradas</div>
<div class="t" style="left:644px;top:490px;font-size:16.4px;color:#000;-webkit-text-stroke:0.2px #000;transform:translate(0.73px,0.41px) scale(1.0200,1.0000) rotate(0.032deg);">118</div>
<div class="t" style="left:684px;top:496px;font-size:9.6px;color:#222;letter-spacing:-0.4px;transform:translate(0.50px,0.40px) scale(0.9572,1.0000) rotate(0.032deg);">pies cuadrados</div>
<div class="t b" style="left:36px;top:581px;font-size:17.2px;color:#111111;transform:translate(0.96px,0.30px) scale(1.0389,1.0000) rotate(0.032deg);">Unidades</div>
<div class="t b" style="left:36px;top:604px;font-size:17.2px;color:#111111;transform:translate(0.97px,0.50px) scale(1.0345,1.0000) rotate(0.032deg);">Pulgada Cúbica</div>
<div class="t b" style="left:36px;top:625px;font-size:17.2px;color:#111111;transform:translate(0.97px,0.70px) scale(1.0280,1.0000) rotate(0.032deg);">ESPESOR</div>
<div class="t b" style="left:36px;top:649px;font-size:17.2px;color:#111111;transform:translate(0.98px,0.70px) scale(1.0182,1.0000) rotate(0.032deg);">Pulgada</div>
<div class="t b" style="left:273px;top:576px;font-size:20.5px;color:#111111;transform:translate(0.30px,0.80px) scale(0.9271,1.0000) rotate(0.032deg);">2 oz.</div>
<div class="t b" style="left:351px;top:576px;font-size:20.5px;color:#111111;transform:translate(0.94px,0.80px) scale(1.0565,1.0000) rotate(0.032deg);">1/2 lb.</div>
<div class="t b" style="left:431px;top:576px;font-size:20.5px;color:#111111;transform:translate(0.51px,0.80px) scale(0.9856,1.0000) rotate(0.032deg);">1 lb.</div>
<div class="t b" style="left:504px;top:576px;font-size:20.5px;color:#111111;transform:translate(0.50px,0.80px) scale(0.9612,1.0000) rotate(0.032deg);">4 lb.</div>
<div class="t b" style="left:584px;top:576px;font-size:20.5px;color:#111111;transform:translate(0.50px,0.80px) scale(0.9550,1.0000) rotate(0.032deg);">8 lb.</div>
<div class="t b" style="left:663px;top:576px;font-size:20.5px;color:#111111;transform:translate(0.29px,0.80px) scale(0.9579,1.0000) rotate(0.032deg);">10 gal.</div>
<div class="t" style="left:273px;top:603px;font-size:16.2px;color:#000;-webkit-text-stroke:0.2px #000;transform:translate(0.00px,0.40px) scale(0.9900,1.0000) rotate(0.032deg);">3.0</div>
<div class="t" style="left:352px;top:603px;font-size:16.2px;color:#000;-webkit-text-stroke:0.2px #000;transform:translate(0.21px,0.40px) scale(0.9900,1.0000) rotate(0.032deg);">12.25</div>
<div class="t" style="left:432px;top:603px;font-size:16.2px;color:#000;-webkit-text-stroke:0.2px #000;transform:translate(0.60px,0.40px) scale(0.9900,1.0000) rotate(0.032deg);">24.5</div>
<div class="t" style="left:505px;top:603px;font-size:16.2px;color:#000;-webkit-text-stroke:0.2px #000;transform:translate(0.00px,0.40px) scale(0.9900,1.0000) rotate(0.032deg);">98</div>
<div class="t" style="left:583px;top:603px;font-size:16.2px;color:#000;-webkit-text-stroke:0.2px #000;transform:translate(0.71px,0.40px) scale(0.9900,1.0000) rotate(0.032deg);">196</div>
<div class="t" style="left:664px;top:603px;font-size:16.2px;color:#000;-webkit-text-stroke:0.2px #000;transform:translate(0.00px,0.40px) scale(0.9900,1.0000) rotate(0.032deg);">2130</div>
<div class="t" style="left:268px;top:628px;font-size:17.3px;color:#111111;transform:translate(0.79px,0.40px) scale(0.9091,1.0000) rotate(0.032deg);">Pulgada</div>
<div class="t" style="left:269px;top:649px;font-size:17.3px;color:#111111;transform:translate(0.70px,0.80px) scale(0.9005,1.0000) rotate(0.032deg);">Cuadrada</div>
<div class="t" style="left:351px;top:628px;font-size:17.3px;color:#111111;transform:translate(0.31px,0.40px) scale(0.8900,1.0000) rotate(0.032deg);">Pie</div>
<div class="t" style="left:351px;top:649px;font-size:17.3px;color:#111111;transform:translate(0.60px,0.80px) scale(0.9151,1.0000) rotate(0.032deg);">Cuadrado</div>
<div class="t" style="left:424px;top:628px;font-size:17.3px;color:#111111;transform:translate(0.91px,0.40px) scale(0.8900,1.0000) rotate(0.032deg);">Pie</div>
<div class="t" style="left:425px;top:649px;font-size:17.3px;color:#111111;transform:translate(0.20px,0.80px) scale(0.9105,1.0000) rotate(0.032deg);">Cuadrado</div>
<div class="t" style="left:501px;top:628px;font-size:17.3px;color:#111111;transform:translate(0.71px,0.40px) scale(0.8900,1.0000) rotate(0.032deg);">Pie</div>
<div class="t" style="left:502px;top:649px;font-size:17.3px;color:#111111;transform:translate(0.00px,0.80px) scale(0.9131,1.0000) rotate(0.032deg);">Cuadrado</div>
<div class="t" style="left:579px;top:628px;font-size:17.3px;color:#111111;transform:translate(0.71px,0.40px) scale(0.8900,1.0000) rotate(0.032deg);">Pie</div>
<div class="t" style="left:580px;top:649px;font-size:17.3px;color:#111111;transform:translate(0.00px,0.80px) scale(0.9131,1.0000) rotate(0.032deg);">Cuadrado</div>
<div class="t" style="left:658px;top:628px;font-size:17.3px;color:#111111;transform:translate(0.96px,0.40px) scale(0.8900,1.0000) rotate(0.032deg);">Pie</div>
<div class="t" style="left:659px;top:649px;font-size:17.3px;color:#111111;transform:translate(0.25px,0.80px) scale(0.9131,1.0000) rotate(0.032deg);">Cuadrado</div>
<div class="t b" style="left:40px;top:670px;font-size:16.4px;color:#111111;transform:translate(0.79px,0.90px) scale(1.0113,1.0000) rotate(0.032deg);">1/32” (0.031)</div>
<div class="t" style="left:272px;top:670px;font-size:16.2px;color:#000;-webkit-text-stroke:0.2px #000;transform:translate(0.40px,0.60px) scale(0.9900,1.0000) rotate(0.032deg);">98</div>
<div class="t" style="left:352px;top:670px;font-size:16.2px;color:#000;-webkit-text-stroke:0.2px #000;transform:translate(0.60px,0.60px) scale(0.9900,1.0000) rotate(0.032deg);">2.7</div>
<div class="t" style="left:432px;top:670px;font-size:16.2px;color:#000;-webkit-text-stroke:0.2px #000;transform:translate(0.00px,0.60px) scale(0.9900,1.0000) rotate(0.032deg);">5.4</div>
<div class="t" style="left:504px;top:670px;font-size:16.2px;color:#000;-webkit-text-stroke:0.2px #000;transform:translate(0.40px,0.60px) scale(0.9900,1.0000) rotate(0.032deg);">21.8</div>
<div class="t" style="left:584px;top:670px;font-size:16.2px;color:#000;-webkit-text-stroke:0.2px #000;transform:translate(0.10px,0.60px) scale(0.9900,1.0000) rotate(0.032deg);">43.5</div>
<div class="t" style="left:663px;top:670px;font-size:16.2px;color:#000;-webkit-text-stroke:0.2px #000;transform:translate(0.40px,0.60px) scale(0.9900,1.0000) rotate(0.032deg);">474</div>
<div class="t b" style="left:40px;top:693px;font-size:16.4px;color:#111111;transform:translate(0.79px,0.40px) scale(1.0113,1.0000) rotate(0.032deg);">1/16” (0.062)</div>
<div class="t" style="left:272px;top:693px;font-size:16.2px;color:#000;-webkit-text-stroke:0.2px #000;transform:translate(0.40px,0.10px) scale(0.9900,1.0000) rotate(0.032deg);">49</div>
<div class="t" style="left:351px;top:693px;font-size:16.2px;color:#000;-webkit-text-stroke:0.2px #000;transform:translate(0.61px,0.10px) scale(0.9900,1.0000) rotate(0.032deg);">1.4</div>
<div class="t" style="left:432px;top:693px;font-size:16.2px;color:#000;-webkit-text-stroke:0.2px #000;transform:translate(0.00px,0.10px) scale(0.9900,1.0000) rotate(0.032deg);">2.7</div>
<div class="t" style="left:503px;top:693px;font-size:16.2px;color:#000;-webkit-text-stroke:0.2px #000;transform:translate(0.41px,0.10px) scale(0.9900,1.0000) rotate(0.032deg);">10.9</div>
<div class="t" style="left:584px;top:693px;font-size:16.2px;color:#000;-webkit-text-stroke:0.2px #000;transform:translate(0.10px,0.10px) scale(0.9900,1.0000) rotate(0.032deg);">21.8</div>
<div class="t" style="left:663px;top:693px;font-size:16.2px;color:#000;-webkit-text-stroke:0.2px #000;transform:translate(0.40px,0.10px) scale(0.9900,1.0000) rotate(0.032deg);">237</div>
<div class="t b" style="left:40px;top:715px;font-size:16.4px;color:#111111;transform:translate(0.78px,0.40px) scale(1.0208,1.0000) rotate(0.032deg);">1/8” (0.125)</div>
<div class="t" style="left:272px;top:715px;font-size:16.2px;color:#000;-webkit-text-stroke:0.2px #000;transform:translate(0.40px,0.10px) scale(0.9900,1.0000) rotate(0.032deg);">24</div>
<div class="t" style="left:352px;top:715px;font-size:16.2px;color:#000;-webkit-text-stroke:0.2px #000;transform:translate(0.60px,0.10px) scale(0.9900,1.0000) rotate(0.032deg);">0.7</div>
<div class="t" style="left:431px;top:715px;font-size:16.2px;color:#000;-webkit-text-stroke:0.2px #000;transform:translate(0.01px,0.10px) scale(0.9900,1.0000) rotate(0.032deg);">1.4</div>
<div class="t" style="left:504px;top:715px;font-size:16.2px;color:#000;-webkit-text-stroke:0.2px #000;transform:translate(0.40px,0.10px) scale(0.9900,1.0000) rotate(0.032deg);">5.4</div>
<div class="t" style="left:583px;top:715px;font-size:16.2px;color:#000;-webkit-text-stroke:0.2px #000;transform:translate(0.11px,0.10px) scale(0.9900,1.0000) rotate(0.032deg);">10.9</div>
<div class="t" style="left:662px;top:715px;font-size:16.2px;color:#000;-webkit-text-stroke:0.2px #000;transform:translate(0.41px,0.10px) scale(0.9900,1.0000) rotate(0.032deg);">118</div>
<div class="t b" style="left:41px;top:737px;font-size:16.4px;color:#111111;transform:translate(0.80px,0.90px) scale(1.0008,1.0000) rotate(0.032deg);">3/16” (0.187)</div>
<div class="t" style="left:271px;top:737px;font-size:16.2px;color:#000;-webkit-text-stroke:0.2px #000;transform:translate(0.41px,0.60px) scale(0.9900,1.0000) rotate(0.032deg);">16</div>
<div class="t" style="left:352px;top:737px;font-size:16.2px;color:#000;-webkit-text-stroke:0.2px #000;transform:translate(0.60px,0.60px) scale(0.9900,1.0000) rotate(0.032deg);">0.5</div>
<div class="t" style="left:432px;top:737px;font-size:16.2px;color:#000;-webkit-text-stroke:0.2px #000;transform:translate(0.00px,0.60px) scale(0.9900,1.0000) rotate(0.032deg);">0.9</div>
<div class="t" style="left:504px;top:737px;font-size:16.2px;color:#000;-webkit-text-stroke:0.2px #000;transform:translate(0.40px,0.60px) scale(0.9900,1.0000) rotate(0.032deg);">3.6</div>
<div class="t" style="left:584px;top:737px;font-size:16.2px;color:#000;-webkit-text-stroke:0.2px #000;transform:translate(0.10px,0.60px) scale(0.9900,1.0000) rotate(0.032deg);">7.2</div>
<div class="t" style="left:663px;top:737px;font-size:16.2px;color:#000;-webkit-text-stroke:0.2px #000;transform:translate(0.40px,0.60px) scale(0.9900,1.0000) rotate(0.032deg);">79</div>
<div class="t b" style="left:40px;top:759px;font-size:16.4px;color:#111111;transform:translate(0.78px,0.90px) scale(1.0209,1.0000) rotate(0.032deg);">1/4” (0.25)</div>
<div class="t" style="left:271px;top:759px;font-size:16.2px;color:#000;-webkit-text-stroke:0.2px #000;transform:translate(0.41px,0.60px) scale(0.9900,1.0000) rotate(0.032deg);">12</div>
<div class="t" style="left:352px;top:759px;font-size:16.2px;color:#000;-webkit-text-stroke:0.2px #000;transform:translate(0.60px,0.60px) scale(0.9900,1.0000) rotate(0.032deg);">0.3</div>
<div class="t" style="left:432px;top:759px;font-size:16.2px;color:#000;-webkit-text-stroke:0.2px #000;transform:translate(0.00px,0.60px) scale(0.9900,1.0000) rotate(0.032deg);">0.7</div>
<div class="t" style="left:504px;top:759px;font-size:16.2px;color:#000;-webkit-text-stroke:0.2px #000;transform:translate(0.40px,0.60px) scale(0.9900,1.0000) rotate(0.032deg);">2.7</div>
<div class="t" style="left:584px;top:759px;font-size:16.2px;color:#000;-webkit-text-stroke:0.2px #000;transform:translate(0.10px,0.60px) scale(0.9900,1.0000) rotate(0.032deg);">5.4</div>
<div class="t" style="left:663px;top:759px;font-size:16.2px;color:#000;-webkit-text-stroke:0.2px #000;transform:translate(0.40px,0.60px) scale(0.9900,1.0000) rotate(0.032deg);">59</div>
</div></body></html>
